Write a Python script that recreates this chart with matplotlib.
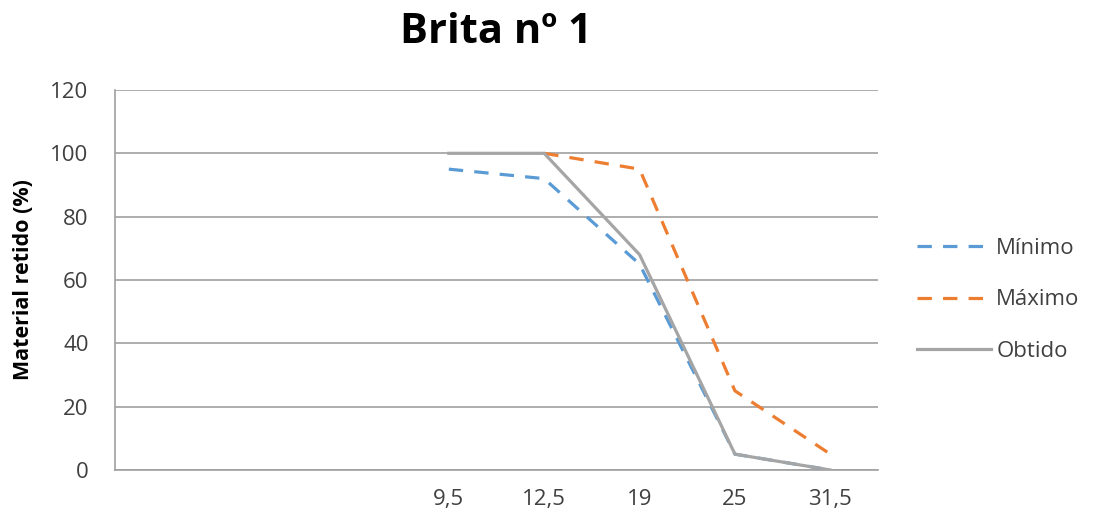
import numpy as np
import matplotlib
matplotlib.use("Agg")
import matplotlib.pyplot as plt

categories = ["", "", "", "9,5", "12,5", "19", "25", "31,5"]
minimo = [np.nan, np.nan, np.nan, 95, 92, 65, 5, 0]
maximo = [np.nan, np.nan, np.nan, np.nan, 100, 95, 25, 5]
obtido = [np.nan, np.nan, np.nan, 100, 100, 68, 5, 0]
yticks = [0, 20, 40, 60, 80, 100, 120]

plt.rcParams['font.family'] = ['Open Sans', 'DejaVu Sans']

fig = plt.figure(figsize=(10.93, 5.18), dpi=100)
ax = fig.add_axes([0.1052, 0.0927, 0.6981, 0.7336])

x = np.arange(len(categories))
dash = (0, (4.5, 3.5))
ax.plot(x, minimo, color='#5B9BD5', lw=2.3, ls=dash, label='Mínimo', zorder=3)
ax.plot(x, maximo, color='#ED7D31', lw=2.3, ls=dash, label='Máximo', zorder=3)
ax.plot(x, obtido, color='#A5A5A5', lw=2.3, label='Obtido', zorder=4)

ax.set_xlim(-0.5, len(categories) - 0.5)
ax.set_ylim(0, 120)
ax.set_xticks(x)
ax.set_xticklabels(categories, fontsize=16, color='#404040')
ax.set_yticks(yticks)
ax.set_yticklabels([str(v) for v in yticks], fontsize=16, color='#404040')
ax.tick_params(axis='x', length=0, pad=14)
ax.tick_params(axis='y', length=0, pad=19)
ax.grid(axis='y', color='#A0A0A0', lw=1.2)
ax.set_axisbelow(True)
for s in ['top', 'right']:
    ax.spines[s].set_visible(False)
for s in ['left', 'bottom']:
    ax.spines[s].set_color('#A0A0A0')
    ax.spines[s].set_linewidth(1.2)

ax.set_ylabel('Material retido (%)', fontsize=15.5, fontweight='bold', labelpad=12)
fig.text(0.454, 0.938, 'Brita nº 1', fontsize=30, fontweight='bold', ha='center', va='center')

leg = fig.legend(loc='center left', bbox_to_anchor=(0.821, 0.421), frameon=False,
                 fontsize=16, handlelength=3.3, labelspacing=1.38, handletextpad=0.25)
for t in leg.get_texts():
    t.set_color('#404040')

fig.savefig('out.png', dpi=100)
